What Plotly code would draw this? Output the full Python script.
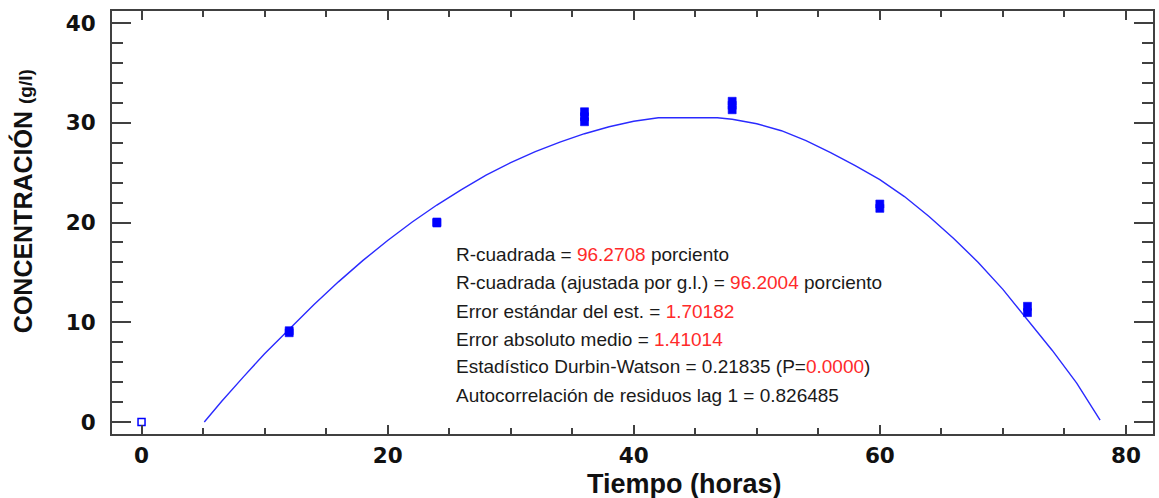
import plotly.graph_objects as go

# ---- data ----
tiempo_rep = [12, 12, 24, 24, 36, 36, 36, 48, 48, 48, 60, 60, 72, 72]
conc_rep = [9.15, 8.95, 20.05, 19.95, 31.1, 30.6, 30.1, 32.15, 31.75, 31.3, 21.85, 21.42, 11.6, 10.97]

tiempo_excl = [0]
conc_excl = [0]

# fitted model curve
curva_x = [5.1, 6.5, 8.3, 10, 12, 14, 16, 18, 20, 22, 24, 26, 28, 30, 32, 34, 36, 38, 40, 42,
           46.8, 48, 50, 52, 54, 56, 58, 60, 62, 64, 66, 68, 70, 72, 74, 76, 77.9]
curva_y = [0.0, 2.05, 4.55, 6.85, 9.3, 11.75, 14.05, 16.2, 18.2, 20.05, 21.75, 23.3, 24.75,
           26.0, 27.1, 28.05, 28.9, 29.6, 30.15, 30.5, 30.5, 30.35, 29.9, 29.2, 28.2, 27.0,
           25.7, 24.3, 22.6, 20.6, 18.4, 16.0, 13.3, 10.3, 7.2, 3.9, 0.2]

stats_labels = ["R-cuadrada = ", "R-cuadrada (ajustada por g.l.) = ", "Error estándar del est. = ",
                "Error absoluto medio = ", "Estadístico Durbin-Watson = 0.21835 (P=",
                "Autocorrelación de residuos lag 1 = 0.826485"]
stats_values = ["96.2708", "96.2004", "1.70182", "1.41014", "0.0000", ""]
stats_suffix = [" porciento", " porciento", "", "", ")", ""]

W, H = 1159, 498
ML, MR, MT, MB = 112, 4, 11, 64
PW, PH = W - ML - MR, H - MT - MB

def px_x(p):
    return (p - ML) / PW

def px_y(p):
    return (H - MB - p) / PH

FONT = "Liberation Sans, Arial, sans-serif"
TICKFONT = "DejaVu Sans, Verdana, sans-serif"
AX = "#404040"
RED = "#ff2a2a"
TXT = "#1a1a1a"

fig = go.Figure()
fig.add_trace(go.Scatter(x=curva_x, y=curva_y, mode="lines",
                         line=dict(color="#2a2aff", width=1.4), hoverinfo="skip",
                         showlegend=False))
fig.add_trace(go.Scatter(x=tiempo_rep, y=conc_rep, mode="markers",
                         marker=dict(symbol="square", size=8, color="#0000ff",
                                     line=dict(width=0.6, color="#0000ff")), showlegend=False))
fig.add_trace(go.Scatter(x=tiempo_excl, y=conc_excl, mode="markers",
                         marker=dict(symbol="square-open", size=7, color="#0000ff",
                                     line=dict(width=1.5, color="#0000ff")),
                         showlegend=False))

axis_common = dict(showline=True, linecolor=AX, linewidth=2, mirror="ticks",
                   ticks="inside", tickcolor=AX, tickwidth=1.5, showgrid=False,
                   zeroline=False,
                   tickfont=dict(family=TICKFONT, size=21.5, color="#111111", weight="bold"))

fig.update_xaxes(range=[-2.4, 82.2], dtick=20, tick0=0, ticklen=9,
                 minor=dict(dtick=5, ticks="inside", ticklen=6, tickcolor=AX, tickwidth=1.5),
                 ticklabelstandoff=1, **axis_common)
fig.update_yaxes(range=[-1.2, 41.2], dtick=10, tick0=0, ticklen=19,
                 minor=dict(dtick=2, ticks="inside", ticklen=11, tickcolor=AX, tickwidth=1.5),
                 ticklabelstandoff=10, **axis_common)

annotations = [
    dict(text="<b>CONCENTRACIÓN <span style='font-size:19px'>(g/l)</span></b>",
         xref="paper", yref="paper", x=px_x(22), y=px_y(201), textangle=-90,
         showarrow=False, xanchor="center", yanchor="middle",
         font=dict(family=FONT, size=25, color="#111111")),
    dict(text="<b>Tiempo (horas)</b>", xref="paper", yref="paper",
         x=px_x(686), y=px_y(484), showarrow=False, xanchor="center", yanchor="middle",
         font=dict(family=FONT, size=27, color="#111111")),
]

line_y = [254, 282.3, 311, 339, 366.7, 395]
for lab, val, suf, yy in zip(stats_labels, stats_values, stats_suffix, line_y):
    txt = lab
    if val:
        txt += f"<span style='color:{RED}'>{val}</span>"
    txt += suf
    annotations.append(dict(text=txt, xref="paper", yref="paper", x=px_x(455), y=px_y(yy),
                            xanchor="left", yanchor="middle", showarrow=False,
                            font=dict(family=FONT, size=19, color=TXT)))

fig.update_layout(width=W, height=H, margin=dict(l=ML, r=MR, t=MT, b=MB),
                  plot_bgcolor="white", paper_bgcolor="white",
                  annotations=annotations, showlegend=False)

fig.write_html("out.html")
